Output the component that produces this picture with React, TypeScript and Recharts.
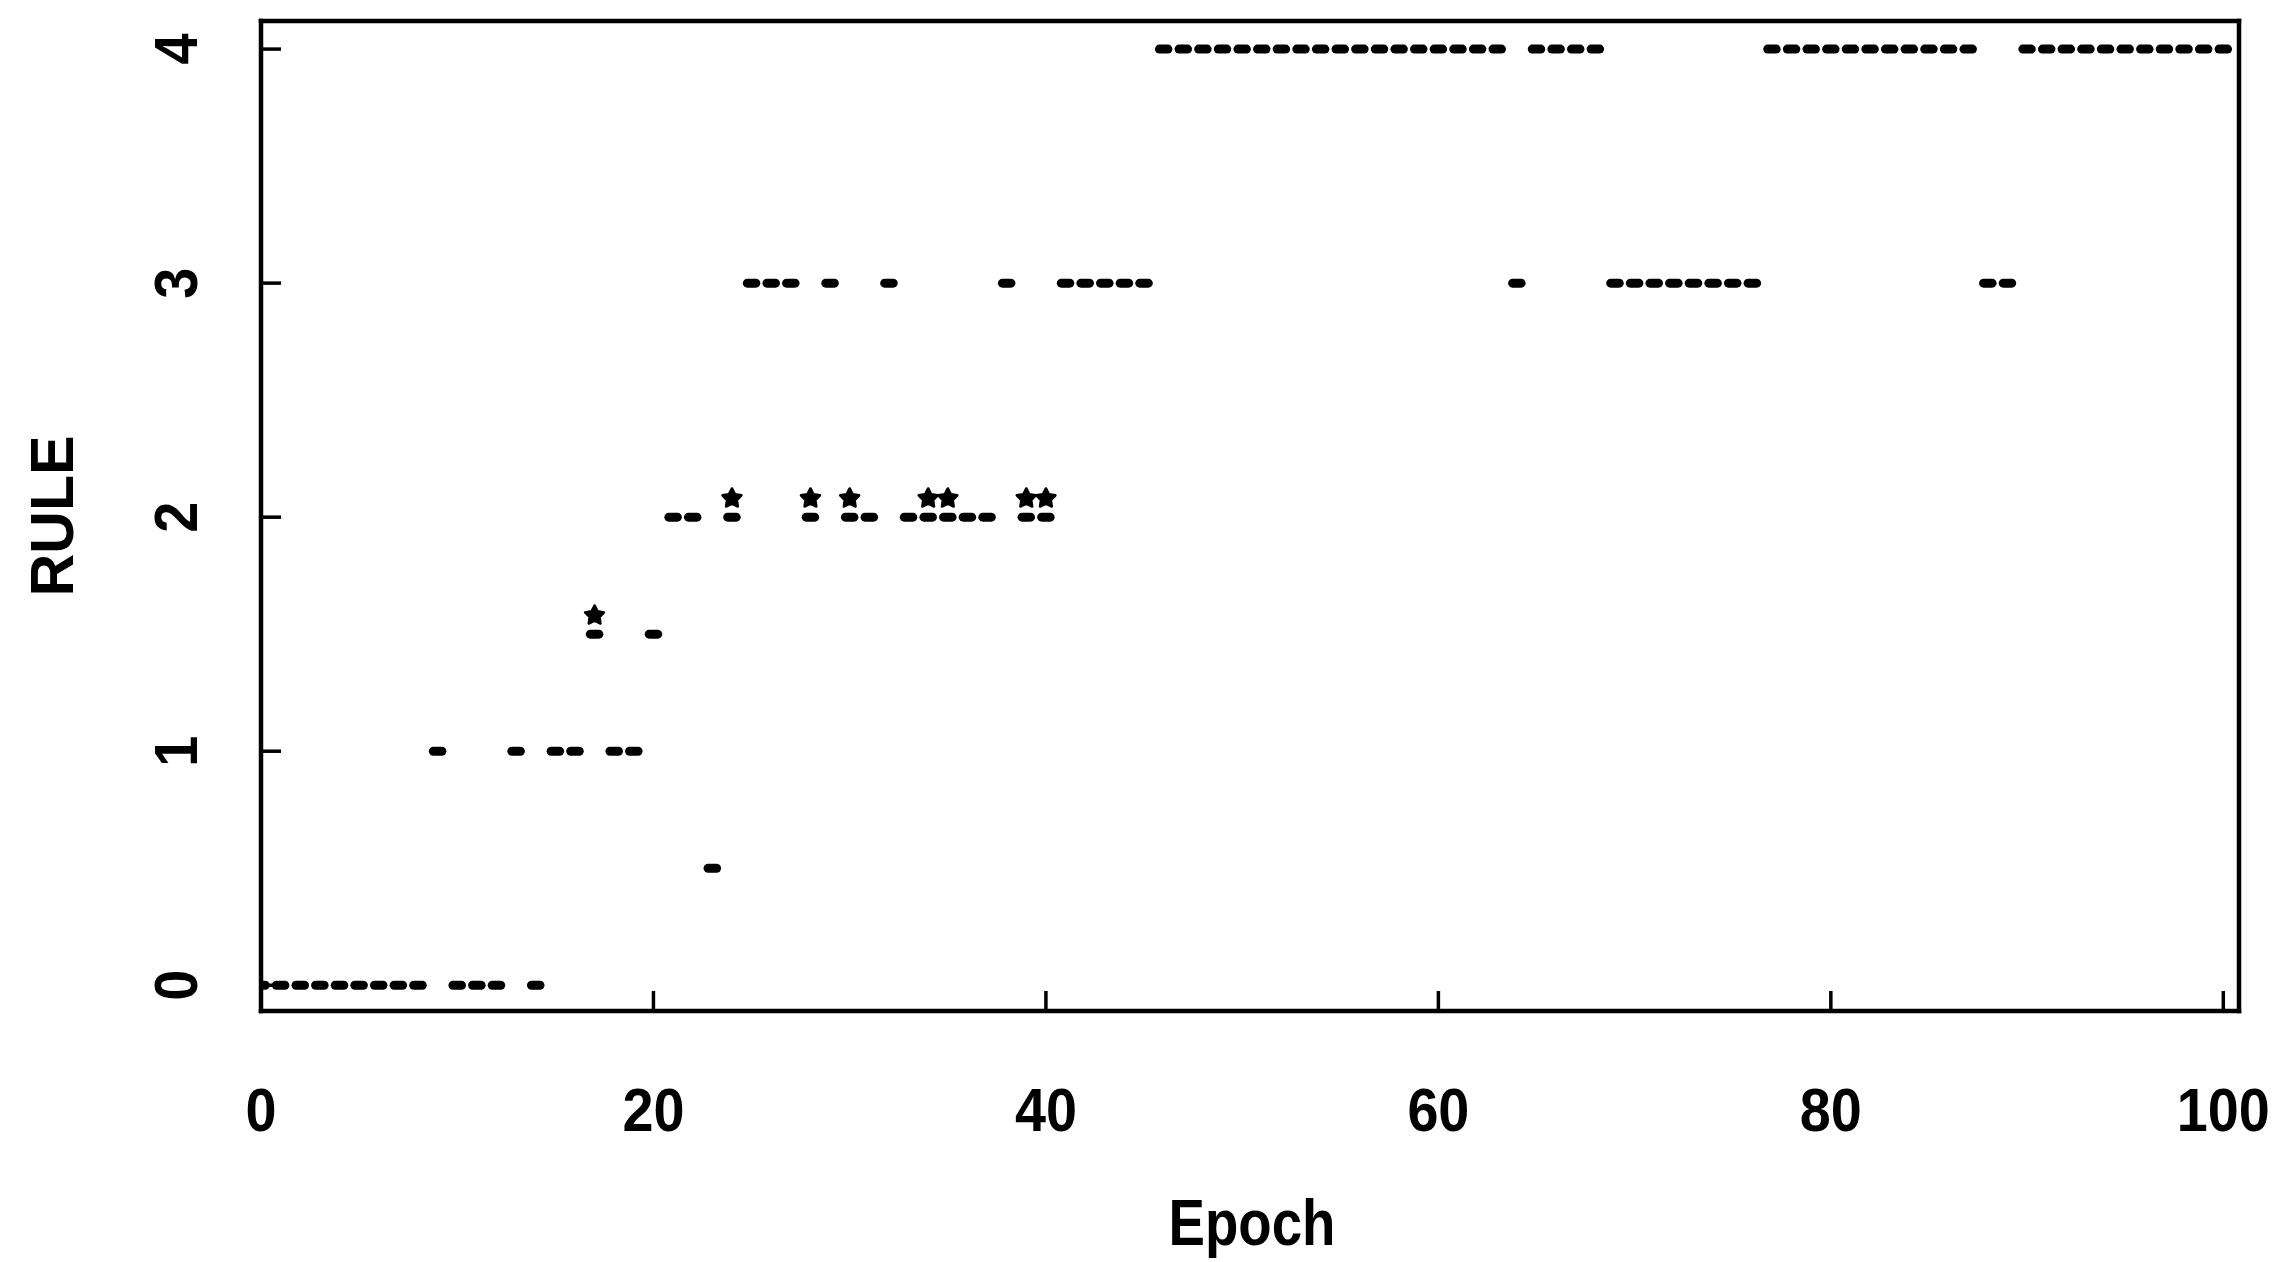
import { ScatterChart, Scatter, XAxis, YAxis } from 'recharts';

// epochs at which each rule level was selected
const rule0Epochs = [0, 1, 2, 3, 4, 5, 6, 7, 8, 10, 11, 12, 14];
const rule05Epochs = [23];
const rule1Epochs = [9, 13, 15, 16, 18, 19];
const rule15Epochs = [17, 20];
const rule2Epochs = [21, 22, 24, 28, 30, 31, 33, 34, 35, 36, 37, 39, 40];
const rule3Epochs = [25, 26, 27, 29, 32, 38, 41, 42, 43, 44, 45, 64, 69, 70, 71, 72, 73, 74, 75, 76, 88, 89];
const rule4Epochs = [
  46, 47, 48, 49, 50, 51, 52, 53, 54, 55, 56, 57, 58, 59, 60, 61, 62, 63,
  65, 66, 67, 68,
  77, 78, 79, 80, 81, 82, 83, 84, 85, 86, 87,
  90, 91, 92, 93, 94, 95, 96, 97, 98, 99, 100,
];

// star marks sitting just above some dashes
const starEpochs = [17, 24, 28, 30, 34, 35, 39, 40];
const starRules = [1.58, 2.08, 2.08, 2.08, 2.08, 2.08, 2.08, 2.08];

const xTicks = [0, 20, 40, 60, 80, 100];
const yTicks = [0, 1, 2, 3, 4];

const levels: [number, number[]][] = [
  [0, rule0Epochs],
  [0.5, rule05Epochs],
  [1, rule1Epochs],
  [1.5, rule15Epochs],
  [2, rule2Epochs],
  [3, rule3Epochs],
  [4, rule4Epochs],
];

const dashData = levels.flatMap(([rule, epochs]) => epochs.map((epoch) => ({ epoch, rule })));
const starData = starEpochs.map((epoch, i) => ({ epoch, rule: starRules[i] }));

const FONT = '"Liberation Sans", Arial, Helvetica, sans-serif';
const frame = { stroke: '#000', strokeWidth: 4.5, strokeLinecap: 'square' as const };
const X_DOMAIN: [number, number] = [0, 100.8];
const Y_DOMAIN: [number, number] = [-0.11, 4.12];

function Dash(props: any) {
  const { cx, cy } = props;
  return <rect x={cx - 8.75} y={cy - 4.5} width={17.5} height={9} rx={4.5} fill="#000" />;
}

function Star(props: any) {
  const { cx, cy } = props;
  const pts: string[] = [];
  for (let i = 0; i < 10; i++) {
    const r = i % 2 === 0 ? 10 : 5.2;
    const a = -Math.PI / 2 + (i * Math.PI) / 5;
    pts.push(`${cx + r * Math.cos(a)},${cy + r * Math.sin(a)}`);
  }
  return <polygon points={pts.join(' ')} fill="#000" stroke="#000" strokeWidth={2.5} strokeLinejoin="round" />;
}

function XTick(props: any) {
  const { x, y, payload } = props;
  const label = String(payload.value);
  return (
    <g>
      <line x1={x} y1={y} x2={x} y2={y - 20} stroke="#000" strokeWidth={3.5} />
      <text
        x={x}
        y={y + 120}
        textAnchor="middle"
        fontFamily={FONT}
        fontWeight="bold"
        fontSize={62}
        textLength={label.length * 31}
        lengthAdjust="spacingAndGlyphs"
        fill="#000"
      >
        {label}
      </text>
    </g>
  );
}

function YTick(props: any) {
  const { x, y, payload } = props;
  const label = String(payload.value);
  const cx = x - 86;
  return (
    <g>
      <line x1={x} y1={y} x2={x + 20} y2={y} stroke="#000" strokeWidth={3.5} />
      <text
        x={cx}
        y={y}
        dy="0.36em"
        transform={`rotate(-90 ${cx} ${y})`}
        textAnchor="middle"
        fontFamily={FONT}
        fontWeight="bold"
        fontSize={62}
        textLength={label.length * 31}
        lengthAdjust="spacingAndGlyphs"
        fill="#000"
      >
        {label}
      </text>
    </g>
  );
}

export default function App() {
  return (
    <div style={{ position: 'absolute', left: 0, top: 0, width: 2291, height: 1262, background: '#fff' }}>
      <ScatterChart width={2291} height={1262} margin={{ top: 20, right: 51, bottom: 51, left: 61 }}>
        <XAxis
          type="number"
          dataKey="epoch"
          domain={X_DOMAIN}
          ticks={xTicks}
          interval={0}
          allowDataOverflow
          height={200}
          tickSize={0}
          tickMargin={0}
          tickLine={false}
          axisLine={frame}
          tick={<XTick />}
        />
        <XAxis xAxisId="top" orientation="top" type="number" domain={X_DOMAIN} height={1} tick={false} tickLine={false} axisLine={frame} />
        <YAxis
          type="number"
          dataKey="rule"
          domain={Y_DOMAIN}
          ticks={yTicks}
          interval={0}
          allowDataOverflow
          width={200}
          tickSize={0}
          tickMargin={0}
          tickLine={false}
          axisLine={frame}
          tick={<YTick />}
        />
        <YAxis yAxisId="right" orientation="right" type="number" domain={Y_DOMAIN} width={1} tick={false} tickLine={false} axisLine={frame} />
        <Scatter data={dashData} shape={<Dash />} isAnimationActive={false} />
        <Scatter data={starData} shape={<Star />} isAnimationActive={false} />
      </ScatterChart>
      <svg width={2291} height={1262} style={{ position: 'absolute', left: 0, top: 0, pointerEvents: 'none' }}>
        <text x={1252} y={1245} textAnchor="middle" fontFamily={FONT} fontWeight="bold" fontSize={64} textLength={167} lengthAdjust="spacingAndGlyphs" fill="#000">
          Epoch
        </text>
        <text
          x={51}
          y={516}
          dy="0.36em"
          transform="rotate(-90 51 516)"
          textAnchor="middle"
          fontFamily={FONT}
          fontWeight="bold"
          fontSize={62}
          textLength={161}
          lengthAdjust="spacingAndGlyphs"
          fill="#000"
        >
          RULE
        </text>
      </svg>
    </div>
  );
}
